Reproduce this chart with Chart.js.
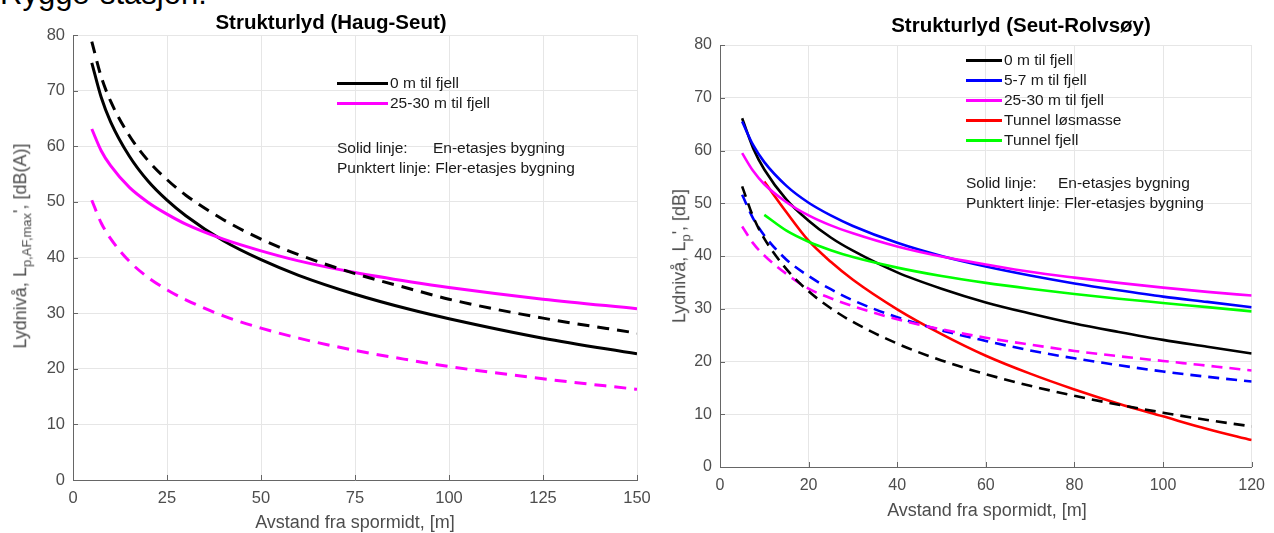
<!DOCTYPE html>
<html>
<head>
<meta charset="utf-8">
<script src="https://cdn.jsdelivr.net/npm/chart.js@4.4.1/dist/chart.umd.min.js"></script>
<style>
  body { margin: 0; width: 1274px; height: 533px; background: #fff; position: relative; overflow: hidden;
         font-family: "Liberation Sans", Arial, sans-serif; color: #1a1a1a; }
  .abs { position: absolute; white-space: nowrap; }
  canvas { position: absolute; top: 0; }
  .title { font-weight: bold; font-size: 20.5px; color: #000; transform: translateX(-50%); }
  .xtitle { font-size: 18px; color: #4d4d4d; transform: translateX(-50%); }
  .ytitle { font-size: 18px; color: #4d4d4d; transform: translate(-50%, -50%) rotate(-90deg); }
  .ytitle sub { font-size: 13px; }
  .leg { font-size: 15.5px; line-height: 20px; }
  .leg .row { height: 20px; position: relative; }
  .leg .sw { position: absolute; left: 0; top: 9px; height: 3px; }
  .leg .lab { position: absolute; }
</style>
</head>
<body>
<div class="abs" style="left:0; top:-22px; font-size:31px; line-height:31px; color:#000;">Rygge-stasjon:</div>

<canvas id="left" width="660" height="533" style="left:0"></canvas>
<canvas id="right" width="614" height="533" style="left:660px"></canvas>

<div class="abs title" style="left:331px; top:10px;">Strukturlyd (Haug-Seut)</div>
<div class="abs title" style="left:1021px; top:13px;">Strukturlyd (Seut-Rolvsøy)</div>

<div class="abs xtitle" style="left:355px; top:512px;">Avstand fra spormidt, [m]</div>
<div class="abs xtitle" style="left:987px; top:500px;">Avstand fra spormidt, [m]</div>

<div class="abs ytitle" style="left:22px; top:246px;">Lydnivå, L<sub>p,AF,max</sub>', [dB(A)]</div>
<div class="abs ytitle" style="left:681px; top:256px;">Lydnivå, L<sub>p</sub>', [dB]</div>

<div class="abs leg" id="legLeft" style="left:337px; top:73px; width:260px;"></div>
<div class="abs leg" id="legRight" style="left:966px; top:50px; width:260px;"></div>

<script>
// venstre figur: Haug-Seut
const distLeft = [5, 7.5, 10, 15, 20, 25, 30, 40, 50, 60, 75, 90, 100, 125, 150];
const haug0Solid  = [75.0, 68.8, 64.4, 58.2, 53.7, 50.3, 47.5, 43.0, 39.6, 36.8, 33.4, 30.6, 29.0, 25.5, 22.7];
const haug0Dash   = [78.8, 72.5, 68.1, 61.9, 57.4, 54.0, 51.2, 46.8, 43.3, 40.5, 37.1, 34.3, 32.5, 29.1, 26.4];
const haug25Solid = [63.1, 59.2, 56.5, 52.6, 49.9, 47.8, 46.0, 43.3, 41.2, 39.4, 37.3, 35.6, 34.6, 32.5, 30.8];
const haug25Dash  = [50.3, 46.2, 43.4, 39.3, 36.4, 34.2, 32.4, 29.5, 27.3, 25.5, 23.3, 21.5, 20.4, 18.2, 16.3];
const xTicksLeft = [0, 25, 50, 75, 100, 125, 150];

// hoyre figur: Seut-Rolvsoy
const distRight = [5, 7.5, 10, 15, 20, 25, 30, 40, 50, 60, 70, 80, 90, 100, 110, 120];
const seut0Solid   = [66.1, 60.4, 56.4, 50.7, 46.7, 43.5, 41.0, 36.9, 33.8, 31.2, 29.1, 27.2, 25.6, 24.1, 22.8, 21.5];
const seut57Solid  = [65.5, 61.0, 57.8, 53.3, 50.1, 47.7, 45.7, 42.5, 40.0, 38.0, 36.3, 34.8, 33.5, 32.3, 31.3, 30.3];
const seut25Solid  = [59.5, 56.1, 53.6, 50.2, 47.7, 45.8, 44.3, 41.8, 39.9, 38.4, 37.0, 35.9, 34.9, 34.0, 33.2, 32.5];
const tunnelLos    = [null, null, 54.1, 48.3, 42.9, 38.9, 35.5, 29.9, 25.2, 21.1, 17.7, 14.7, 12.0, 9.6, 7.2, 5.1];
const tunnelFjell  = [null, null, 47.8, 44.8, 42.7, 41.1, 39.8, 37.8, 36.2, 34.9, 33.8, 32.8, 31.9, 31.1, 30.3, 29.5];
const seut0Dash    = [53.2, 47.4, 43.3, 37.5, 33.3, 30.1, 27.5, 23.4, 20.2, 17.6, 15.4, 13.5, 11.8, 10.3, 8.9, 7.7];
const seut57Dash   = [51.6, 47.1, 43.9, 39.3, 36.2, 33.7, 31.6, 28.4, 25.9, 23.9, 22.1, 20.6, 19.3, 18.1, 17.1, 16.2];
const seut25Dash   = [45.6, 42.4, 40.1, 36.6, 33.8, 32.0, 30.5, 28.0, 26.1, 24.5, 23.2, 22.0, 21.0, 20.1, 19.2, 18.3];
const xTicksRight = [0, 20, 40, 60, 80, 100, 120];

const yTicks = [0, 10, 20, 30, 40, 50, 60, 70, 80];

const legendLeft = [["0 m til fjell", "#000000"], ["25-30 m til fjell", "#ff00ff"]];
const legendRight = [["0 m til fjell", "#000000"], ["5-7 m til fjell", "#0000ff"], ["25-30 m til fjell", "#ff00ff"],
                     ["Tunnel løsmasse", "#ff0000"], ["Tunnel fjell", "#00ff00"]];

function pts(xs, ys) { return xs.map((x, i) => ({ x: x, y: ys[i] })); }

function line(xs, ys, color, dash, w) {
    return {
        data: pts(xs, ys),
        borderColor: color,
        borderWidth: w,
        borderDash: dash || [],
        pointRadius: 0,
        tension: 0.4,
        cubicInterpolationMode: 'monotone',
        fill: false,
        spanGaps: false
    };
}

// små tick-streker innover fra aksene (matlab-stil)
const innerTicks = {
    id: 'innerTicks',
    beforeDatasetsDraw(chart) {
        const ctx = chart.ctx, a = chart.chartArea, x = chart.scales.x, y = chart.scales.y;
        ctx.save();
        ctx.strokeStyle = '#666';
        ctx.lineWidth = 1;
        x.ticks.forEach(t => {
            const px = Math.round(x.getPixelForValue(t.value)) + 0.5;
            ctx.beginPath(); ctx.moveTo(px, a.bottom); ctx.lineTo(px, a.bottom - 5); ctx.stroke();
        });
        y.ticks.forEach(t => {
            const py = Math.round(y.getPixelForValue(t.value)) + 0.5;
            ctx.beginPath(); ctx.moveTo(a.left, py); ctx.lineTo(a.left + 5, py); ctx.stroke();
        });
        ctx.restore();
    }
};

function makeChart(id, datasets, xmax, xticks, yw, xh, pad, fontSize) {
    return new Chart(document.getElementById(id), {
        type: 'line',
        data: { datasets: datasets },
        plugins: [innerTicks],
        options: {
            responsive: false,
            animation: false,
            devicePixelRatio: 1,
            layout: { padding: pad },
            plugins: { legend: { display: false }, tooltip: { enabled: false } },
            scales: {
                x: {
                    type: 'linear', min: 0, max: xmax,
                    afterBuildTicks: s => { s.ticks = xticks.map(v => ({ value: v })); },
                    afterFit: s => { s.height = xh; },
                    grid: { color: '#e6e6e6', drawTicks: false },
                    border: { color: '#666', width: 1 },
                    ticks: { color: '#4d4d4d', padding: 9, maxRotation: 0, font: { family: 'Liberation Sans', size: fontSize } }
                },
                y: {
                    type: 'linear', min: 0, max: 80,
                    afterBuildTicks: s => { s.ticks = yTicks.map(v => ({ value: v })); },
                    afterFit: s => { s.width = yw; },
                    grid: { color: '#e6e6e6', drawTicks: false },
                    border: { color: '#666', width: 1 },
                    ticks: { color: '#4d4d4d', padding: 8, font: { family: 'Liberation Sans', size: fontSize } }
                }
            }
        }
    });
}

const dL = [12, 8];
makeChart('left', [
    line(distLeft, haug25Dash, '#ff00ff', dL, 3),
    line(distLeft, haug0Dash, '#000000', dL, 3),
    line(distLeft, haug25Solid, '#ff00ff', null, 3),
    line(distLeft, haug0Solid, '#000000', null, 3)
], 150, xTicksLeft, 73, 53, { left: 0, top: 35, right: 23, bottom: 0 }, 16.5);

const dR = [11, 7];
makeChart('right', [
    line(distRight, seut0Dash, '#000000', dR, 2.6),
    line(distRight, seut25Dash, '#ff00ff', dR, 2.6),
    line(distRight, seut57Dash, '#0000ff', dR, 2.6),
    line(distRight, tunnelFjell, '#00ff00', null, 2.6),
    line(distRight, seut25Solid, '#ff00ff', null, 2.6),
    line(distRight, seut57Solid, '#0000ff', null, 2.6),
    line(distRight, seut0Solid, '#000000', null, 2.6),
    line(distRight, tunnelLos, '#ff0000', null, 2.6)
], 120, xTicksRight, 60, 66, { left: 0, top: 45, right: 19, bottom: 0 }, 16);

// legender
function buildLegend(id, items, swW, gapAfter, noteCol) {
    const el = document.getElementById(id);
    let html = '';
    items.forEach(it => {
        html += '<div class="row"><div class="sw" style="width:' + swW + 'px;background:' + it[1] + '"></div>' +
                '<span class="lab" style="left:' + (swW + 2) + 'px">' + it[0] + '</span></div>';
    });
    html += '<div style="height:' + gapAfter + 'px"></div>';
    html += '<div class="row"><span class="lab" style="left:0">Solid linje:</span><span class="lab" style="left:' + noteCol + 'px">En-etasjes bygning</span></div>';
    html += '<div class="row"><span class="lab" style="left:0">Punktert linje: Fler-etasjes bygning</span></div>';
    el.innerHTML = html;
}
buildLegend('legLeft', legendLeft, 51, 25, 96);
buildLegend('legRight', legendRight, 36, 23, 92);
</script>
</body>
</html>
